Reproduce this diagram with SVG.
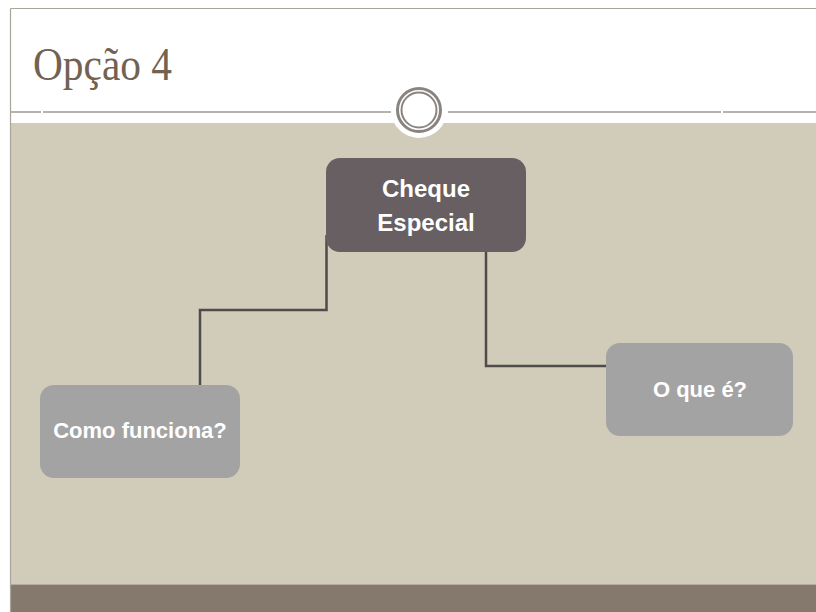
<svg xmlns="http://www.w3.org/2000/svg" width="816" height="612" viewBox="0 0 816 612">
  <style>
    .node-dark { fill: #675f62; }
    .node-light { fill: #a3a3a3; }
    .label { font-family: "Liberation Sans", Arial, sans-serif; font-weight: bold; fill: #ffffff; text-anchor: middle; }
    .conn { fill: none; stroke: #4d4b4b; stroke-width: 2.5; }
    .rule { stroke: #a09890; stroke-width: 1.5; }
  </style>

  <!-- page background -->
  <rect x="0" y="0" width="816" height="612" fill="#ffffff"/>

  <!-- slide body -->
  <rect x="10.5" y="123" width="806" height="462" fill="#d1cbb9"/>
  <line x1="10.5" y1="584.5" x2="816" y2="584.5" stroke="#b4ab9c" stroke-width="1"/>
  <rect x="10.5" y="585" width="806" height="27" fill="#85786c"/>

  <!-- slide frame -->
  <line x1="10.5" y1="8.5" x2="816" y2="8.5" stroke="#aaa59c" stroke-width="1"/>
  <line x1="10.5" y1="8.5" x2="10.5" y2="612" stroke="#aaa59c" stroke-width="1.2"/>

  <!-- header rule with ring ornament -->
  <line class="rule" x1="11" y1="112" x2="41" y2="112"/>
  <line class="rule" x1="43" y1="112" x2="391" y2="112"/>
  <line class="rule" x1="448" y1="112" x2="721" y2="112"/>
  <line class="rule" x1="723" y1="112" x2="816" y2="112"/>
  <circle cx="419" cy="110" r="28" fill="#ffffff"/>
  <circle cx="419" cy="110" r="21.5" fill="none" stroke="#8a8480" stroke-width="3"/>
  <circle cx="419" cy="110" r="17.5" fill="none" stroke="#8a8480" stroke-width="2"/>

  <!-- title -->
  <text x="33" y="80" font-family="'Liberation Serif', 'Times New Roman', serif" font-size="46" fill="#716252" textLength="139" lengthAdjust="spacingAndGlyphs">Opção 4</text>

  <!-- connectors -->
  <g id="connectors">
    <polyline class="conn" points="326.5,235 326.5,310 200,310 200,385"/>
    <polyline class="conn" points="486,252 486,366 606,366"/>
  </g>

  <!-- nodes -->
  <g id="node-cheque-especial">
    <rect class="node-dark" x="326" y="158" width="200" height="94" rx="14"/>
    <text class="label" x="426" y="197" font-size="24">Cheque</text>
    <text class="label" x="426" y="231" font-size="24">Especial</text>
  </g>

  <g id="node-como-funciona">
    <rect class="node-light" x="40" y="385" width="200" height="93" rx="14"/>
    <text class="label" x="140" y="438" font-size="22">Como funciona?</text>
  </g>

  <g id="node-o-que-e">
    <rect class="node-light" x="606" y="343" width="187" height="93" rx="14"/>
    <text class="label" x="700" y="397" font-size="22">O que é?</text>
  </g>
</svg>
